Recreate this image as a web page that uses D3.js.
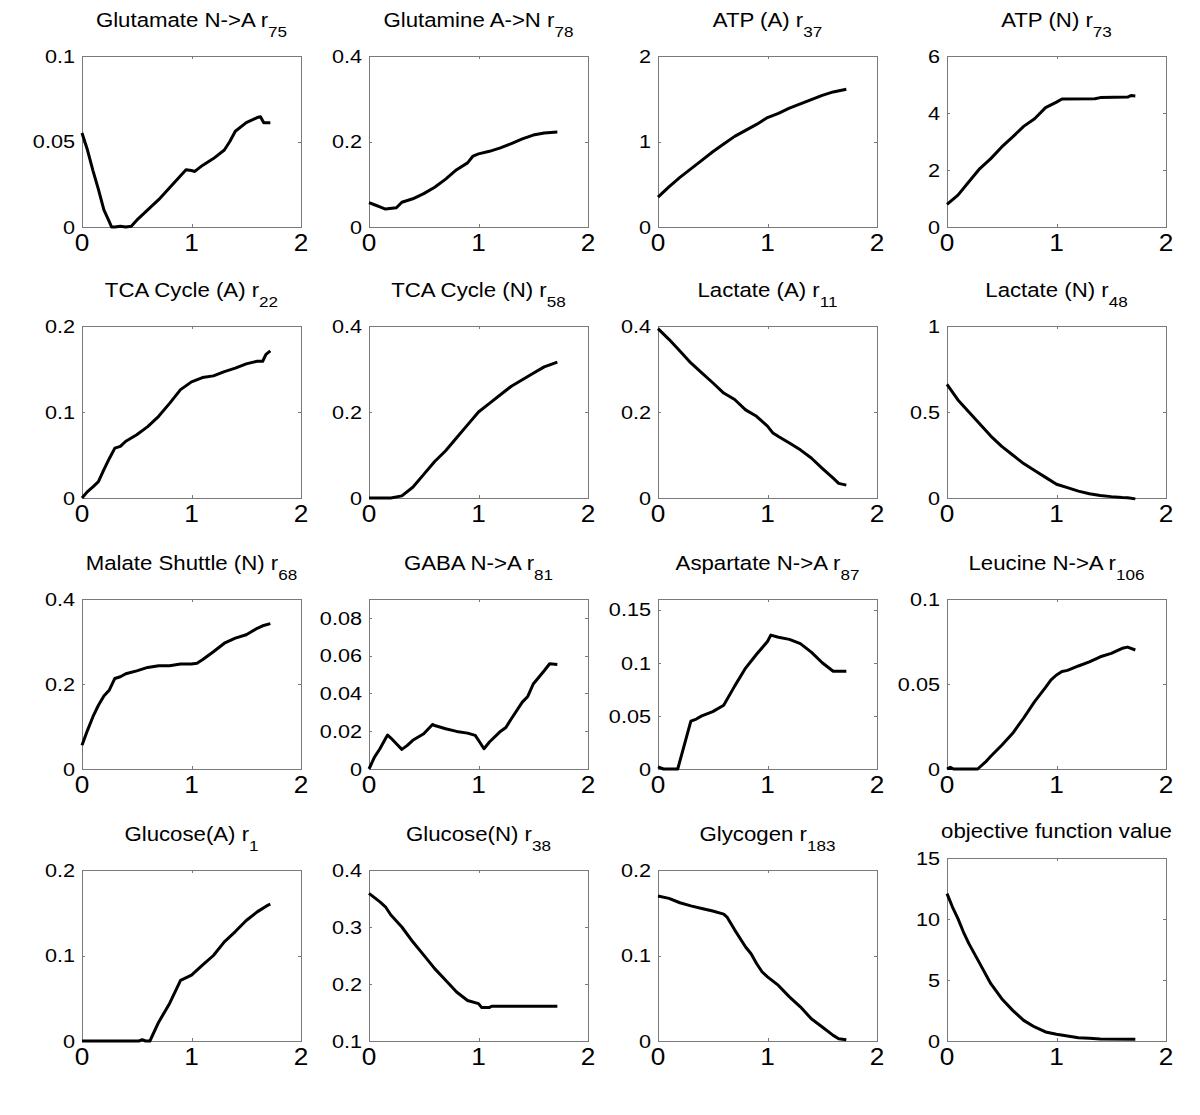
<!DOCTYPE html>
<html>
<head>
<meta charset="utf-8">
<script src="https://cdn.jsdelivr.net/npm/d3@7"></script>
<style>
  html, body { margin: 0; padding: 0; background: #fff; }
  svg { display: block; font-family: Arial, "Liberation Sans", Helvetica, sans-serif; }
</style>
</head>
<body>
<svg id="chart" width="1200" height="1115"></svg>
<script>
// ---------------- DATA ----------------
const titles = [
  "Glutamate N->A r", "Glutamine A->N r", "ATP (A) r", "ATP (N) r",
  "TCA Cycle (A) r", "TCA Cycle (N) r", "Lactate (A) r", "Lactate (N) r",
  "Malate Shuttle (N) r", "GABA N->A r", "Aspartate N->A r", "Leucine N->A r",
  "Glucose(A) r", "Glucose(N) r", "Glycogen r", "objective function value"
];
const subscripts = ["75","78","37","73","22","58","11","48","68","81","87","106","1","38","183",""];

const xTicks = [0, 1, 2];
const xTickLabels = ["0", "1", "2"];

const yDomains = [
  [0, 0.1], [0, 0.4], [0, 2], [0, 6],
  [0, 0.2], [0, 0.4], [0, 0.4], [0, 1],
  [0, 0.4], [0, 0.09], [0, 0.16], [0, 0.1],
  [0, 0.2], [0.1, 0.4], [0, 0.2], [0, 15]
];
const yTicks = [
  [0, 0.05, 0.1], [0, 0.2, 0.4], [0, 1, 2], [0, 2, 4, 6],
  [0, 0.1, 0.2], [0, 0.2, 0.4], [0, 0.2, 0.4], [0, 0.5, 1],
  [0, 0.2, 0.4], [0, 0.02, 0.04, 0.06, 0.08], [0, 0.05, 0.1, 0.15], [0, 0.05, 0.1],
  [0, 0.1, 0.2], [0.1, 0.2, 0.3, 0.4], [0, 0.1, 0.2], [0, 5, 10, 15]
];
const yTickLabels = [
  ["0","0.05","0.1"], ["0","0.2","0.4"], ["0","1","2"], ["0","2","4","6"],
  ["0","0.1","0.2"], ["0","0.2","0.4"], ["0","0.2","0.4"], ["0","0.5","1"],
  ["0","0.2","0.4"], ["0","0.02","0.04","0.06","0.08"], ["0","0.05","0.1","0.15"], ["0","0.05","0.1"],
  ["0","0.1","0.2"], ["0.1","0.2","0.3","0.4"], ["0","0.1","0.2"], ["0","5","10","15"]
];

// series values: [x, y]
const glutamateNA = [[0,0.055],[0.05,0.045],[0.1,0.033],[0.15,0.022],[0.2,0.010],[0.25,0.003],[0.27,0],[0.3,0],[0.35,0.0005],[0.4,0],[0.45,0.0005],[0.5,0.004],[0.6,0.010],[0.7,0.016],[0.8,0.023],[0.9,0.030],[0.95,0.0335],[1.0,0.033],[1.03,0.0325],[1.1,0.036],[1.2,0.040],[1.3,0.045],[1.35,0.050],[1.4,0.056],[1.5,0.061],[1.6,0.064],[1.63,0.0645],[1.66,0.061],[1.72,0.061]];
const glutamineAN = [[0,0.057],[0.05,0.052],[0.1,0.047],[0.15,0.042],[0.25,0.045],[0.3,0.058],[0.4,0.066],[0.5,0.078],[0.6,0.093],[0.7,0.112],[0.8,0.134],[0.9,0.150],[0.95,0.166],[1.0,0.171],[1.1,0.177],[1.2,0.185],[1.3,0.195],[1.4,0.206],[1.5,0.215],[1.6,0.220],[1.72,0.222]];
const atpA = [[0,0.35],[0.1,0.47],[0.2,0.58],[0.3,0.68],[0.4,0.78],[0.5,0.88],[0.6,0.97],[0.7,1.06],[0.8,1.13],[0.9,1.20],[1.0,1.28],[1.1,1.33],[1.2,1.39],[1.3,1.44],[1.4,1.49],[1.5,1.54],[1.6,1.58],[1.72,1.61]];
const atpN = [[0,0.79],[0.1,1.12],[0.2,1.59],[0.3,2.05],[0.4,2.40],[0.5,2.81],[0.6,3.16],[0.7,3.53],[0.8,3.80],[0.9,4.19],[1.0,4.38],[1.05,4.49],[1.35,4.50],[1.4,4.54],[1.65,4.56],[1.68,4.61],[1.72,4.60]];
const tcaA = [[0,0],[0.05,0.0074],[0.1,0.013],[0.15,0.019],[0.2,0.033],[0.25,0.046],[0.3,0.058],[0.35,0.060],[0.4,0.066],[0.5,0.0735],[0.6,0.083],[0.7,0.095],[0.8,0.110],[0.9,0.126],[1.0,0.135],[1.1,0.140],[1.2,0.142],[1.3,0.147],[1.4,0.151],[1.5,0.156],[1.6,0.159],[1.65,0.159],[1.68,0.167],[1.72,0.171]];
const tcaN = [[0,0],[0.2,0],[0.3,0.005],[0.4,0.025],[0.5,0.055],[0.6,0.085],[0.7,0.110],[0.8,0.140],[0.9,0.170],[1.0,0.200],[1.1,0.220],[1.2,0.240],[1.3,0.260],[1.4,0.275],[1.5,0.290],[1.6,0.305],[1.72,0.316]];
const lactateA = [[0,0.394],[0.1,0.369],[0.2,0.342],[0.3,0.314],[0.4,0.291],[0.5,0.268],[0.6,0.244],[0.7,0.229],[0.8,0.205],[0.9,0.190],[1.0,0.167],[1.05,0.151],[1.1,0.143],[1.2,0.128],[1.3,0.112],[1.4,0.093],[1.5,0.069],[1.6,0.046],[1.65,0.034],[1.72,0.030]];
const lactateN = [[0,0.66],[0.1,0.57],[0.2,0.50],[0.3,0.43],[0.4,0.36],[0.5,0.30],[0.6,0.25],[0.7,0.20],[0.8,0.16],[0.9,0.12],[1.0,0.08],[1.1,0.06],[1.2,0.04],[1.3,0.025],[1.4,0.015],[1.5,0.008],[1.6,0.003],[1.65,0.002],[1.72,-0.005]];
const malateN = [[0,0.056],[0.05,0.091],[0.1,0.123],[0.15,0.150],[0.2,0.172],[0.25,0.186],[0.3,0.213],[0.35,0.217],[0.4,0.224],[0.5,0.231],[0.6,0.239],[0.7,0.243],[0.8,0.243],[0.9,0.247],[1.0,0.247],[1.05,0.249],[1.1,0.257],[1.2,0.276],[1.3,0.296],[1.4,0.308],[1.5,0.316],[1.6,0.331],[1.65,0.337],[1.72,0.342]];
const gabaNA = [[0,0],[0.05,0.0063],[0.1,0.0107],[0.15,0.016],[0.17,0.018],[0.2,0.0164],[0.25,0.0134],[0.3,0.0104],[0.35,0.0125],[0.4,0.0152],[0.5,0.0187],[0.58,0.0236],[0.6,0.023],[0.7,0.0213],[0.8,0.0199],[0.9,0.019],[0.97,0.0178],[1.0,0.0152],[1.05,0.0107],[1.1,0.0143],[1.2,0.0199],[1.25,0.022],[1.3,0.0266],[1.4,0.0354],[1.45,0.0384],[1.5,0.045],[1.6,0.052],[1.65,0.0557],[1.72,0.0553]];
const aspartateNA = [[0,0.002],[0.05,0],[0.18,0],[0.22,0.015],[0.26,0.030],[0.3,0.045],[0.35,0.047],[0.4,0.050],[0.5,0.054],[0.6,0.060],[0.7,0.078],[0.8,0.095],[0.9,0.108],[1.0,0.120],[1.03,0.126],[1.1,0.124],[1.2,0.122],[1.3,0.118],[1.4,0.110],[1.5,0.100],[1.6,0.092],[1.72,0.092]];
const leucineNA = [[0,0],[0.03,0.001],[0.06,0],[0.28,0],[0.35,0.004],[0.4,0.0075],[0.5,0.014],[0.6,0.021],[0.7,0.030],[0.8,0.0396],[0.9,0.048],[0.95,0.0524],[1.0,0.0553],[1.05,0.0573],[1.1,0.058],[1.2,0.0606],[1.3,0.063],[1.4,0.066],[1.5,0.068],[1.6,0.071],[1.65,0.0717],[1.72,0.070]];
const glucoseA = [[0,0],[0.52,0],[0.55,0.0015],[0.58,0],[0.62,0],[0.7,0.022],[0.8,0.044],[0.9,0.071],[1.0,0.077],[1.1,0.0887],[1.2,0.100],[1.3,0.116],[1.4,0.128],[1.5,0.141],[1.6,0.151],[1.7,0.159],[1.72,0.160]];
const glucoseN = [[0,0.359],[0.1,0.344],[0.15,0.3355],[0.2,0.321],[0.3,0.300],[0.4,0.274],[0.5,0.2506],[0.6,0.227],[0.7,0.2066],[0.8,0.186],[0.9,0.171],[1.0,0.1656],[1.03,0.1586],[1.1,0.1586],[1.12,0.161],[1.72,0.161]];
const glycogen = [[0,0.1695],[0.1,0.1668],[0.2,0.1617],[0.3,0.158],[0.4,0.155],[0.5,0.152],[0.6,0.1484],[0.63,0.145],[0.7,0.130],[0.8,0.110],[0.85,0.102],[0.9,0.0906],[0.95,0.081],[1.0,0.075],[1.1,0.065],[1.2,0.0516],[1.3,0.040],[1.4,0.026],[1.5,0.0164],[1.6,0.0066],[1.65,0.0027],[1.72,0.0015]];
const objective = [[0,12.08],[0.05,10.98],[0.1,10.03],[0.15,8.93],[0.2,7.98],[0.3,6.34],[0.4,4.70],[0.5,3.47],[0.6,2.51],[0.7,1.69],[0.8,1.15],[0.9,0.74],[1.0,0.55],[1.1,0.41],[1.2,0.27],[1.3,0.22],[1.4,0.16],[1.72,0.14]];

const series = [glutamateNA, glutamineAN, atpA, atpN, tcaA, tcaN, lactateA, lactateN,
                malateN, gabaNA, aspartateNA, leucineNA, glucoseA, glucoseN, glycogen, objective];

// ---------------- LAYOUT ----------------
const colLeft = [82, 369, 658, 947];
const plotW = 219;
const rowTop = [56, 326, 599, 870];
const rowBottom = [227, 498, 769, 1041];
const stretch = 1.14;

const svg = d3.select("#chart");

series.forEach((data, i) => {
  const c = i % 4, r = Math.floor(i / 4);
  const left = colLeft[c];
  const top = (i === 15) ? 858 : rowTop[r];
  const bottom = rowBottom[r];
  const h = bottom - top;

  const x = d3.scaleLinear().domain([0, 2]).range([0, plotW]);
  const y = d3.scaleLinear().domain(yDomains[i]).range([h, 0]);

  const g = svg.append("g").attr("transform", `translate(${left},${top})`);

  // box
  g.append("rect").attr("x", 0).attr("y", 0).attr("width", plotW).attr("height", h)
    .attr("fill", "none").attr("stroke", "#7a7a7a").attr("stroke-width", 1)
    .attr("shape-rendering", "crispEdges");

  // ticks (inward, all four sides)
  const tl = 3;
  const axB = d3.axisBottom(x).tickValues(xTicks).tickSize(-tl).tickFormat("");
  const axT = d3.axisTop(x).tickValues(xTicks).tickSize(-tl).tickFormat("");
  const axL = d3.axisLeft(y).tickValues(yTicks[i]).tickSize(-tl).tickFormat("");
  const axR = d3.axisRight(y).tickValues(yTicks[i]).tickSize(-tl).tickFormat("");
  [[axB, `translate(0,${h})`], [axT, "translate(0,0)"], [axL, "translate(0,0)"], [axR, `translate(${plotW},0)`]]
    .forEach(([ax, tr]) => {
      const a = g.append("g").attr("transform", tr).call(ax);
      a.select(".domain").remove();
      a.selectAll("line").attr("stroke", "#7a7a7a").attr("shape-rendering", "crispEdges");
    });

  // x tick labels
  xTicks.forEach((t, k) => {
    g.append("text")
      .attr("transform", `translate(${x(t)},${h + 24}) scale(${stretch},1)`)
      .attr("text-anchor", "middle").attr("font-size", 23).attr("fill", "#000")
      .text(xTickLabels[k]);
  });
  // y tick labels
  yTicks[i].forEach((t, k) => {
    g.append("text")
      .attr("transform", `translate(-7,${y(t) + 6.8}) scale(${stretch},1)`)
      .attr("text-anchor", "end").attr("font-size", 19).attr("fill", "#000")
      .text(yTickLabels[i][k]);
  });

  // title
  const titleY = subscripts[i] ? -29 : -20;
  const tt = g.append("text")
    .attr("transform", `translate(${plotW / 2},${titleY}) scale(${stretch},1)`)
    .attr("text-anchor", "middle").attr("font-size", 19.5).attr("fill", "#000");
  tt.append("tspan").text(titles[i]);
  if (subscripts[i]) {
    tt.append("tspan").attr("font-size", 15).attr("dy", 10).text(subscripts[i]);
  }

  // line
  const line = d3.line().x(d => x(d[0])).y(d => y(d[1]));
  g.append("path").datum(data)
    .attr("d", line).attr("fill", "none").attr("stroke", "#000")
    .attr("stroke-width", 3).attr("stroke-linejoin", "round").attr("stroke-linecap", "butt");
});
</script>
</body>
</html>
